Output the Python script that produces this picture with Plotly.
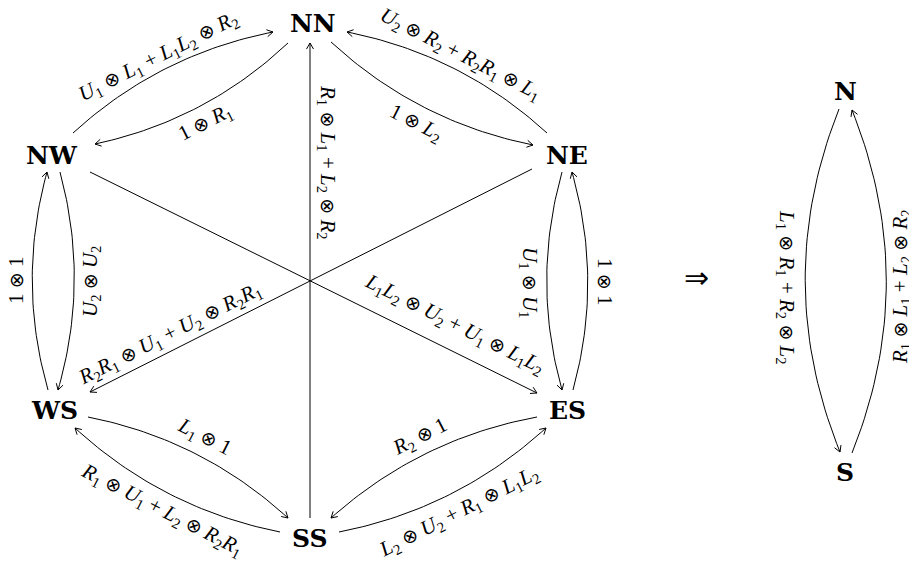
import math
import re

import plotly.graph_objects as go

# nodes of the left (hexagon) diagram and the right one
node_names = ["NN", "NW", "NE", "WS", "ES", "SS", "N", "S"]
node_x = [313, 52, 567, 54, 567, 310, 845, 845]
node_y = [23, 155, 155, 410, 410, 538, 91, 472]

# edges: label, start anchor, end anchor, bend ("out", "in", None)
edge_labels = [
    "U1 ⊗ L1 + L1L2 ⊗ R2",
    "1 ⊗ R1",
    "U2 ⊗ R2 + R2R1 ⊗ L1",
    "1 ⊗ L2",
    "U1 ⊗ U1",
    "1 ⊗ 1",
    "1 ⊗ 1",
    "U2 ⊗ U2",
    "L1 ⊗ 1",
    "R1 ⊗ U1 + L2 ⊗ R2R1",
    "R2 ⊗ 1",
    "L2 ⊗ U2 + R1 ⊗ L1L2",
    "R1 ⊗ L1 + L2 ⊗ R2",
    "L1L2 ⊗ U2 + U1 ⊗ L1L2",
    "R2R1 ⊗ U1 + U2 ⊗ R2R1",
    "L1 ⊗ R1 + R2 ⊗ L2",
    "R1 ⊗ L1 + L2 ⊗ R2",
]
edge_start = [(73, 133), (288, 43), (547, 133), (331, 42), (562, 172), (573, 390),
              (48, 390), (60, 172), (88, 417), (280, 532), (537, 417), (339, 532),
              (310, 518), (90, 172), (532, 169), (839, 109), (852, 453)]
edge_end = [(273, 32), (95, 144), (347, 32), (533, 145), (562, 390), (572, 172),
            (47, 172), (58, 390), (288, 518), (75, 428), (331, 518), (546, 428),
            (310, 43), (537, 393), (90, 392), (840, 452), (852, 110)]
edge_bend = ["out", "in", "out", "in", "in", "out", "out", "in", "in", "out", "in", "out",
             None, None, None, "out", "out"]
edge_group = [0] * 15 + [1] * 2
# label placement (centre and angle)
label_x = [158, 205, 460, 416, 529, 605, 16, 91, 204, 162, 420, 459, 327, 454, 170, 786, 901]
label_y = [57, 123, 54, 123, 282, 281, 281, 282, 437, 510, 437, 512, 162, 324, 334, 287, 287]
label_angle = [-26.8, -26.8, 27, 27, 90, 90, -90, -90, 27, 27, -27, -27, 90, 26.5, -26.8, 90, -90]

centers = [(310, 280), (845.5, 280)]
bend_ratio = [0.07, 0.10]

OTIMES = '<span style="font-family:DejaVu Sans;font-size:19px">⊗</span>'


def tex(s):
    s = re.sub(r"([A-Z])(\d)", r"<i>\1</i><sub>\2</sub>", s)
    return s.replace("⊗", OTIMES).replace(" + ", "\u00a0+\u00a0")


def curve(p0, p2, bend, center, ratio):
    mx, my = (p0[0] + p2[0]) / 2, (p0[1] + p2[1]) / 2
    dx, dy = p2[0] - p0[0], p2[1] - p0[1]
    length = math.hypot(dx, dy)
    if bend is None:
        c = (mx, my)
    else:
        nx, ny = -dy / length, dx / length
        away = nx * (mx - center[0]) + ny * (my - center[1])
        if (bend == "out" and away < 0) or (bend == "in" and away > 0):
            nx, ny = -nx, -ny
        off = 2 * ratio * length
        c = (mx + nx * off, my + ny * off)
    xs, ys = [], []
    for i in range(41):
        t = i / 40
        xs.append((1 - t) ** 2 * p0[0] + 2 * (1 - t) * t * c[0] + t ** 2 * p2[0])
        ys.append((1 - t) ** 2 * p0[1] + 2 * (1 - t) * t * c[1] + t ** 2 * p2[1])
    # arrow tip
    ux, uy = p2[0] - c[0], p2[1] - c[1]
    ul = math.hypot(ux, uy)
    ux, uy = ux / ul, uy / ul
    head_x, head_y = [], []
    for a in (math.radians(30), -math.radians(30)):
        bx = -ux * math.cos(a) + uy * math.sin(a)
        by = -uy * math.cos(a) - ux * math.sin(a)
        head_x += [p2[0] + 7 * bx, p2[0], None]
        head_y += [p2[1] + 7 * by, p2[1], None]
    return xs + [None] + head_x, ys + [None] + head_y


fig = go.Figure()

all_x, all_y = [], []
for i in range(len(edge_labels)):
    g = edge_group[i]
    xs, ys = curve(edge_start[i], edge_end[i], edge_bend[i], centers[g], bend_ratio[g])
    all_x += xs + [None]
    all_y += ys + [None]

fig.add_trace(
    go.Scatter(
        x=all_x,
        y=all_y,
        mode="lines",
        line=dict(color="black", width=1),
        hoverinfo="skip",
        showlegend=False,
    )
)

serif = "Liberation Serif, DejaVu Serif, serif"

for name, x, y in zip(node_names, node_x, node_y):
    fig.add_annotation(
        x=x, y=y, text=f"<b>{name}</b>", showarrow=False,
        font=dict(family="DejaVu Serif", size=25, color="black"),
        xanchor="center", yanchor="middle",
    )

for lab, x, y, a in zip(edge_labels, label_x, label_y, label_angle):
    fig.add_annotation(
        x=x, y=y, text=tex(lab), showarrow=False, textangle=a,
        font=dict(family=serif, size=21, color="black"),
        xanchor="center", yanchor="middle",
    )

fig.add_annotation(
    x=696, y=277, text="⇒", showarrow=False,
    font=dict(family="DejaVu Sans", size=30, color="black"),
)

fig.update_layout(
    width=909,
    height=564,
    margin=dict(l=0, r=0, t=0, b=0),
    plot_bgcolor="white",
    paper_bgcolor="white",
    xaxis=dict(range=[0, 909], visible=False, fixedrange=True),
    yaxis=dict(range=[564, 0], visible=False, fixedrange=True),
)

fig.write_html(
    "out.html",
    config={"displayModeBar": False},
    post_script="document.body.style.margin = '0';",
)
